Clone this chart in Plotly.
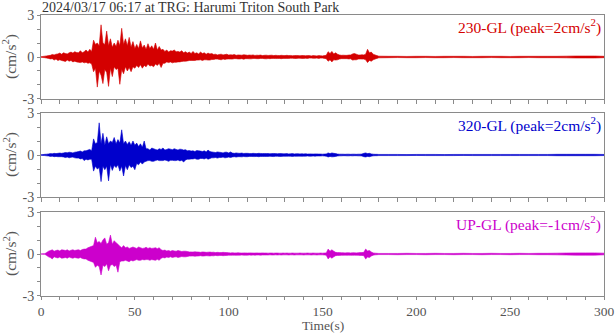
import plotly.graph_objects as go

# Time axis: per-second extremes from 0 to 180 s, then every 5 s to 300 s
t_fine = list(range(0, 181))
t_tail = list(range(185, 301, 5))

# 230-GL: positive / negative extremes per second (cm/s^2), one row = 10 s
hi230 = [
    0.02, 0.04, 0.06, 0.08, 0.1, 0.12, 0.18, 0.15, 0.2, 0.22,
    0.28, 0.2, 0.3, 0.25, 0.22, 0.3, 0.35, 0.28, 0.38, 0.32,
    0.3, 0.45, 0.3, 0.38, 0.5, 0.35, 0.55, 0.4, 1.2, 0.9,
    1.0, 0.8, 2.3, 1.0, 0.9, 1.85, 0.8, 1.3, 0.7, 1.0,
    0.75, 1.2, 0.8, 2.05, 0.9, 1.3, 0.8, 1.4, 0.7, 1.1,
    0.6, 0.9, 0.6, 1.15, 0.65, 0.85, 0.55, 0.95, 0.6, 0.8,
    0.55, 1.0, 0.5, 0.75, 0.5, 0.55, 0.4, 0.5, 0.35, 0.45,
    0.42, 0.5, 0.38, 0.4, 0.35, 0.45, 0.3, 0.38, 0.28, 0.35,
    0.25, 0.4, 0.25, 0.3, 0.22, 0.35, 0.25, 0.3, 0.2, 0.28,
    0.22, 0.25, 0.18, 0.2, 0.15, 0.18, 0.2, 0.15, 0.17, 0.2,
    0.14, 0.16, 0.15, 0.18, 0.12, 0.15, 0.14, 0.13, 0.16, 0.15,
    0.12, 0.14, 0.13, 0.15, 0.11, 0.13, 0.12, 0.14, 0.1, 0.12,
    0.13, 0.11, 0.12, 0.13, 0.1, 0.12, 0.11, 0.1, 0.12, 0.11,
    0.1, 0.12, 0.1, 0.11, 0.09, 0.1, 0.11, 0.1, 0.09, 0.11,
    0.1, 0.09, 0.1, 0.1, 0.08, 0.1, 0.09, 0.08, 0.1, 0.09,
    0.08, 0.1, 0.12, 0.38, 0.25, 0.4, 0.22, 0.3, 0.2, 0.15,
    0.12, 0.13, 0.12, 0.12, 0.14, 0.15, 0.22, 0.25, 0.2, 0.15,
    0.14, 0.16, 0.15, 0.2, 0.55, 0.3, 0.35, 0.2, 0.15, 0.1,
    0.06,
]
lo230 = [
    -0.02, -0.04, -0.05, -0.08, -0.1, -0.14, -0.12, -0.22, -0.15, -0.25,
    -0.2, -0.25, -0.28, -0.32, -0.22, -0.3, -0.25, -0.35, -0.3, -0.35,
    -0.38, -0.4, -0.35, -0.42, -0.38, -0.45, -0.42, -0.5, -1.05, -0.8,
    -2.15, -1.0, -1.3, -1.9, -0.9, -1.1, -2.1, -0.8, -1.4, -0.7,
    -0.9, -0.8, -1.95, -0.9, -1.2, -0.7, -1.0, -0.75, -1.05, -0.7,
    -0.8, -0.6, -0.75, -0.55, -0.8, -0.6, -0.7, -0.5, -0.65, -0.6,
    -0.7, -0.5, -0.6, -0.45, -0.75, -0.45, -0.45, -0.35, -0.4, -0.35,
    -0.42, -0.38, -0.38, -0.35, -0.35, -0.32, -0.3, -0.3, -0.28, -0.25,
    -0.25, -0.25, -0.25, -0.22, -0.22, -0.2, -0.25, -0.2, -0.2, -0.22,
    -0.22, -0.18, -0.18, -0.15, -0.15, -0.17, -0.2, -0.14, -0.17, -0.15,
    -0.14, -0.15, -0.15, -0.12, -0.12, -0.14, -0.14, -0.12, -0.16, -0.12,
    -0.12, -0.13, -0.13, -0.11, -0.11, -0.12, -0.12, -0.1, -0.1, -0.12,
    -0.13, -0.11, -0.12, -0.1, -0.1, -0.11, -0.11, -0.1, -0.12, -0.1,
    -0.1, -0.1, -0.1, -0.09, -0.09, -0.1, -0.11, -0.09, -0.09, -0.1,
    -0.1, -0.09, -0.1, -0.08, -0.08, -0.09, -0.09, -0.08, -0.1, -0.08,
    -0.08, -0.1, -0.12, -0.3, -0.2, -0.35, -0.2, -0.22, -0.2, -0.15,
    -0.12, -0.12, -0.12, -0.12, -0.14, -0.13, -0.22, -0.2, -0.2, -0.15,
    -0.14, -0.15, -0.15, -0.2, -0.4, -0.25, -0.3, -0.2, -0.15, -0.1,
    -0.06,
]
hi230_tail = [0.05, 0.05, 0.04, 0.05, 0.05, 0.04, 0.05, 0.05, 0.05, 0.04, 0.05, 0.05,
              0.05, 0.04, 0.05, 0.05, 0.05, 0.05, 0.05, 0.06, 0.07, 0.07, 0.07, 0.05]
lo230_tail = [-0.05, -0.04, -0.05, -0.05, -0.04, -0.05, -0.05, -0.04, -0.05, -0.05, -0.05, -0.04,
              -0.05, -0.05, -0.05, -0.04, -0.05, -0.05, -0.05, -0.06, -0.07, -0.07, -0.07, -0.05]

# 320-GL
hi320 = [
    0.02, 0.03, 0.05, 0.06, 0.08, 0.1, 0.09, 0.12, 0.1, 0.12,
    0.14, 0.12, 0.15, 0.18, 0.16, 0.2, 0.18, 0.15, 0.2, 0.22,
    0.25, 0.28, 0.22, 0.3, 0.3, 0.35, 0.4, 0.3, 1.15, 0.8,
    0.9, 2.3, 0.8, 1.55, 0.7, 1.3, 0.8, 1.0, 0.9, 1.25,
    0.8, 1.1, 0.85, 1.8, 0.8, 1.0, 0.75, 0.95, 0.7, 1.0,
    0.7, 0.85, 0.6, 0.8, 0.55, 1.0, 0.45, 0.45, 0.35, 0.5,
    0.45, 0.4, 0.35, 0.45, 0.4, 0.5, 0.35, 0.4, 0.45, 0.42,
    0.38, 0.45, 0.4, 0.35, 0.42, 0.4, 0.35, 0.38, 0.3, 0.32,
    0.28, 0.3, 0.25, 0.32, 0.3, 0.28, 0.25, 0.3, 0.22, 0.35,
    0.25, 0.22, 0.2, 0.18, 0.22, 0.2, 0.18, 0.15, 0.2, 0.2,
    0.15, 0.22, 0.14, 0.12, 0.15, 0.13, 0.12, 0.14, 0.11, 0.12,
    0.12, 0.11, 0.1, 0.12, 0.11, 0.1, 0.12, 0.11, 0.1, 0.11,
    0.1, 0.11, 0.09, 0.1, 0.11, 0.1, 0.09, 0.1, 0.1, 0.09,
    0.09, 0.1, 0.08, 0.09, 0.1, 0.08, 0.09, 0.09, 0.08, 0.09,
    0.08, 0.09, 0.07, 0.08, 0.08, 0.07, 0.08, 0.08, 0.07, 0.07,
    0.06, 0.07, 0.08, 0.15, 0.1, 0.15, 0.12, 0.1, 0.07, 0.06,
    0.06, 0.06, 0.05, 0.06, 0.06, 0.05, 0.06, 0.06, 0.05, 0.06,
    0.06, 0.07, 0.12, 0.15, 0.1, 0.12, 0.08, 0.06, 0.05, 0.05,
    0.04,
]
lo320 = [
    -0.02, -0.03, -0.04, -0.06, -0.07, -0.1, -0.08, -0.12, -0.1, -0.12,
    -0.12, -0.12, -0.14, -0.18, -0.15, -0.2, -0.16, -0.15, -0.2, -0.22,
    -0.22, -0.28, -0.25, -0.4, -0.3, -0.35, -0.3, -0.3, -1.15, -0.8,
    -1.0, -0.9, -1.9, -0.8, -1.05, -0.8, -1.85, -0.7, -1.1, -0.75,
    -0.9, -0.7, -1.15, -0.8, -1.5, -0.75, -1.05, -0.7, -0.9, -0.8,
    -1.05, -0.6, -0.7, -0.5, -0.65, -0.5, -0.45, -0.4, -0.4, -0.45,
    -0.45, -0.4, -0.35, -0.4, -0.4, -0.4, -0.35, -0.4, -0.45, -0.38,
    -0.38, -0.4, -0.4, -0.35, -0.42, -0.38, -0.5, -0.35, -0.3, -0.3,
    -0.28, -0.28, -0.25, -0.3, -0.3, -0.25, -0.25, -0.28, -0.22, -0.3,
    -0.25, -0.2, -0.2, -0.18, -0.22, -0.18, -0.18, -0.15, -0.2, -0.18,
    -0.15, -0.18, -0.14, -0.12, -0.15, -0.12, -0.12, -0.13, -0.11, -0.12,
    -0.12, -0.1, -0.1, -0.11, -0.11, -0.1, -0.12, -0.1, -0.1, -0.1,
    -0.1, -0.1, -0.09, -0.1, -0.11, -0.09, -0.09, -0.1, -0.1, -0.09,
    -0.09, -0.09, -0.08, -0.09, -0.1, -0.08, -0.09, -0.08, -0.08, -0.09,
    -0.08, -0.08, -0.07, -0.08, -0.08, -0.07, -0.08, -0.07, -0.07, -0.07,
    -0.06, -0.07, -0.08, -0.14, -0.1, -0.13, -0.12, -0.1, -0.07, -0.06,
    -0.06, -0.05, -0.05, -0.06, -0.06, -0.05, -0.06, -0.05, -0.05, -0.06,
    -0.06, -0.07, -0.12, -0.14, -0.1, -0.12, -0.08, -0.06, -0.05, -0.05,
    -0.04,
]
hi320_tail = [0.04, 0.04, 0.03, 0.04, 0.04, 0.04, 0.03, 0.04, 0.04, 0.04, 0.04, 0.04,
              0.04, 0.04, 0.04, 0.04, 0.04, 0.04, 0.05, 0.05, 0.05, 0.05, 0.05, 0.04]
lo320_tail = [-0.04, -0.04, -0.04, -0.03, -0.04, -0.04, -0.04, -0.04, -0.03, -0.04, -0.04, -0.04,
              -0.04, -0.04, -0.04, -0.04, -0.04, -0.04, -0.05, -0.05, -0.05, -0.05, -0.05, -0.04]

# UP-GL
hiup = [
    0.0, 0.01, 0.02, 0.1, 0.2, 0.25, 0.3, 0.2, 0.25, 0.28,
    0.22, 0.3, 0.28, 0.25, 0.3, 0.22, 0.27, 0.3, 0.25, 0.28,
    0.3, 0.25, 0.32, 0.35, 0.35, 0.45, 0.5, 0.55, 0.6, 1.2,
    0.8, 0.9, 0.75, 1.0, 1.15, 0.7, 0.8, 1.35, 0.7, 0.95,
    0.8, 0.7, 0.55, 0.45, 0.6, 0.45, 0.5, 0.4, 0.45, 0.5,
    0.45, 0.4, 0.5, 0.45, 0.4, 0.42, 0.48, 0.4, 0.45, 0.4,
    0.42, 0.45, 0.38, 0.45, 0.3, 0.25, 0.28, 0.22, 0.25, 0.2,
    0.25, 0.22, 0.2, 0.25, 0.22, 0.18, 0.2, 0.2, 0.18, 0.15,
    0.15, 0.14, 0.16, 0.15, 0.14, 0.12, 0.15, 0.14, 0.12, 0.13,
    0.14, 0.12, 0.13, 0.1, 0.12, 0.11, 0.1, 0.12, 0.11, 0.1,
    0.09, 0.08, 0.09, 0.08, 0.08, 0.09, 0.08, 0.07, 0.08, 0.08,
    0.07, 0.08, 0.08, 0.07, 0.07, 0.08, 0.07, 0.07, 0.08, 0.07,
    0.07, 0.06, 0.07, 0.07, 0.06, 0.07, 0.07, 0.06, 0.06, 0.07,
    0.06, 0.07, 0.06, 0.06, 0.07, 0.06, 0.06, 0.06, 0.07, 0.06,
    0.06, 0.06, 0.07, 0.06, 0.06, 0.07, 0.06, 0.06, 0.06, 0.07,
    0.06, 0.07, 0.08, 0.35, 0.2, 0.3, 0.2, 0.12, 0.1, 0.1,
    0.09, 0.09, 0.08, 0.09, 0.09, 0.08, 0.09, 0.09, 0.08, 0.09,
    0.1, 0.1, 0.12, 0.35, 0.22, 0.25, 0.15, 0.08, 0.06, 0.05,
    0.04,
]
loup = [
    0.0, -0.01, -0.02, -0.1, -0.2, -0.25, -0.35, -0.2, -0.25, -0.28,
    -0.22, -0.3, -0.28, -0.25, -0.3, -0.22, -0.27, -0.3, -0.25, -0.28,
    -0.3, -0.25, -0.32, -0.35, -0.35, -0.45, -0.5, -0.55, -0.6, -0.95,
    -0.8, -0.9, -1.5, -0.8, -0.9, -0.7, -1.2, -0.8, -0.75, -0.9,
    -0.8, -1.3, -0.55, -0.5, -0.5, -0.45, -0.5, -0.55, -0.45, -0.5,
    -0.45, -0.4, -0.45, -0.45, -0.4, -0.42, -0.4, -0.4, -0.45, -0.4,
    -0.42, -0.45, -0.38, -0.45, -0.3, -0.25, -0.28, -0.22, -0.25, -0.2,
    -0.25, -0.22, -0.2, -0.25, -0.22, -0.18, -0.2, -0.2, -0.18, -0.15,
    -0.15, -0.14, -0.16, -0.15, -0.14, -0.12, -0.15, -0.14, -0.12, -0.13,
    -0.14, -0.12, -0.13, -0.1, -0.12, -0.11, -0.1, -0.12, -0.11, -0.1,
    -0.08, -0.09, -0.08, -0.08, -0.09, -0.08, -0.08, -0.07, -0.08, -0.08,
    -0.08, -0.07, -0.08, -0.07, -0.08, -0.07, -0.07, -0.08, -0.07, -0.07,
    -0.07, -0.07, -0.06, -0.07, -0.07, -0.06, -0.07, -0.06, -0.07, -0.06,
    -0.06, -0.06, -0.07, -0.06, -0.06, -0.07, -0.06, -0.06, -0.06, -0.06,
    -0.07, -0.06, -0.06, -0.06, -0.07, -0.06, -0.06, -0.07, -0.06, -0.06,
    -0.06, -0.07, -0.08, -0.35, -0.2, -0.3, -0.2, -0.12, -0.1, -0.1,
    -0.09, -0.09, -0.08, -0.09, -0.08, -0.09, -0.09, -0.08, -0.09, -0.09,
    -0.1, -0.1, -0.12, -0.35, -0.22, -0.25, -0.15, -0.08, -0.06, -0.05,
    -0.04,
]
hiup_tail = [0.04, 0.04, 0.05, 0.04, 0.04, 0.05, 0.04, 0.04, 0.05, 0.04, 0.04, 0.05,
             0.04, 0.04, 0.05, 0.04, 0.05, 0.05, 0.06, 0.07, 0.08, 0.08, 0.08, 0.06]
loup_tail = [-0.04, -0.05, -0.04, -0.04, -0.05, -0.04, -0.04, -0.05, -0.04, -0.04, -0.05, -0.04,
             -0.04, -0.05, -0.04, -0.04, -0.05, -0.05, -0.06, -0.07, -0.08, -0.08, -0.08, -0.06]

labels = [
    "230-GL (peak=2cm/s<sup>2</sup>)",
    "320-GL (peak=2cm/s<sup>2</sup>)",
    "UP-GL (peak=-1cm/s<sup>2</sup>)",
]
colors = ["#d40000", "#0000cc", "#cc00cc"]
uppers = [hi230 + hi230_tail, hi320 + hi320_tail, hiup + hiup_tail]
lowers = [lo230 + lo230_tail, lo320 + lo320_tail, loup + loup_tail]

title_text = "2024/03/17 06:17 at TRG: Harumi Triton South Park"
x_title = "Time(s)"
x_ticks = list(range(0, 301, 10))
x_labels = [str(v) if v % 50 == 0 else "" for v in x_ticks]
y_ticks = [-3, -2, -1, 0, 1, 2, 3]
y_labels = ["-3", "", "", "0", "", "", "3"]

FONT = "Liberation Serif, Times New Roman, serif"
GRAY = "#8a8a8a"
TXT = "#555555"

domains = [[0.7011, 1.0], [0.3523, 0.6512], [0.0, 0.2989]]
t_all = t_fine + t_tail

fig = go.Figure()
for i, (hi, lo, col) in enumerate(zip(uppers, lowers, colors)):
    sfx = "" if i == 0 else str(i + 1)
    # band between the positive and negative extremes of the record
    fig.add_trace(go.Scatter(
        x=t_all + t_all[::-1], y=hi + lo[::-1], mode="lines",
        fill="toself", fillcolor=col,
        line=dict(color=col, width=0.6, simplify=False),
        xaxis="x" + sfx, yaxis="y" + sfx, showlegend=False, hoverinfo="skip",
    ))
    fig.update_layout({
        "xaxis" + sfx: dict(
            domain=[0, 1], anchor="y" + sfx, range=[0, 300],
            tickmode="array", tickvals=x_ticks,
            ticktext=x_labels if i == 2 else [""] * len(x_ticks),
            showticklabels=(i == 2),
            ticks="outside", ticklen=4 if i < 2 else 3, tickwidth=1, tickcolor=GRAY,
            showline=True, linecolor=GRAY, linewidth=1, mirror=True,
            showgrid=False, zeroline=False, automargin=False,
            tickfont=dict(family=FONT, size=13.5, color=TXT),
        ),
        "yaxis" + sfx: dict(
            domain=domains[i], anchor="x" + sfx, range=[-3, 3],
            tickmode="array", tickvals=y_ticks, ticktext=y_labels,
            ticks="outside", ticklen=3, tickwidth=1, tickcolor=GRAY,
            showline=True, linecolor=GRAY, linewidth=1, mirror=True,
            showgrid=False, zeroline=False, automargin=False,
            tickfont=dict(family=FONT, size=14, color=TXT),
        ),
    })

annotations = [
    dict(text=title_text, xref="paper", yref="paper", x=0, y=1,
         xanchor="left", yanchor="bottom", xshift=-1, yshift=-2, showarrow=False,
         font=dict(family=FONT, size=14, color="#333333")),
    dict(text=x_title, xref="paper", yref="paper", x=0.5, y=0,
         xanchor="center", yanchor="bottom", yshift=-38, showarrow=False,
         borderpad=0, font=dict(family=FONT, size=13.5, color=TXT)),
]
for i, (lab, col) in enumerate(zip(labels, colors)):
    sfx = "" if i == 0 else str(i + 1)
    annotations.append(dict(
        text=lab, xref="x" + sfx + " domain", yref="y" + sfx + " domain",
        x=1, y=1, xanchor="right", yanchor="top", xshift=-1, yshift=1, showarrow=False,
        font=dict(family=FONT, size=15.5, color=col)))
    annotations.append(dict(
        text="(cm/s<sup>2</sup>)", xref="paper", yref="y" + sfx + " domain",
        x=0, y=0.5, xanchor="center", yanchor="middle", xshift=-31,
        textangle=-90, showarrow=False,
        font=dict(family=FONT, size=15.5, color=TXT)))

fig.update_layout(
    width=616, height=334,
    margin=dict(l=41, r=12, t=15, b=38),
    paper_bgcolor="white", plot_bgcolor="white",
    annotations=annotations,
)

fig.write_html("out.html")
